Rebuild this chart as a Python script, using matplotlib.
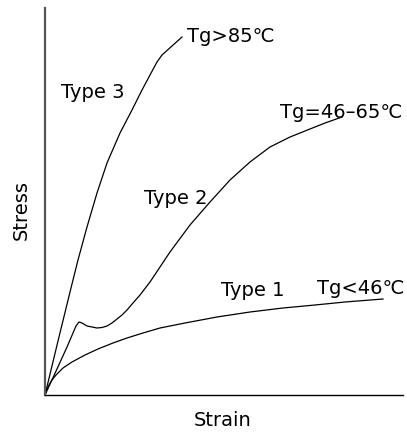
import matplotlib
matplotlib.use("Agg")
import matplotlib.pyplot as plt

plt.rcParams['font.family'] = ['DejaVu Sans', 'Noto Sans CJK JP']

# curves (arbitrary units, strain vs stress)
type3_x = [0, 13, 26, 33, 42, 52, 62, 75, 87, 97, 105, 112, 117, 127, 137]
type3_y = [0, 54, 107, 135, 168, 202, 232, 262, 285, 305, 320, 333, 340, 349, 358]

type2_x = [0, 12, 22, 28, 31, 34, 37, 42, 47, 52, 57, 62, 67, 72, 77, 82, 88, 95, 105, 115,
           125, 145, 165, 185, 205, 225, 245, 265, 280, 297]
type2_y = [0, 26, 48, 62, 69, 73, 72, 69, 68, 67, 67.5, 69, 72, 76, 80, 85, 92, 100, 113, 128,
           143, 170, 193, 215, 233, 248, 258, 266, 272, 278]

type1_x = [0, 2, 4, 7, 11, 18, 27, 40, 53, 68, 82, 98, 115, 140, 172, 205, 238, 270, 300, 338]
type1_y = [0, 6, 10, 15, 20, 27, 33, 40, 46, 52, 57, 62, 67, 72, 78, 83, 87, 90, 93, 96]

W, H = 407, 432
fig = plt.figure(figsize=(W / 100, H / 100), dpi=100)
ax = fig.add_axes([45 / W, 37 / H, 358 / W, 387 / H])

for xs, ys in [(type3_x, type3_y), (type2_x, type2_y), (type1_x, type1_y)]:
    ax.plot(xs, ys, color='black', lw=0.9)

ax.set_xlim(0, 358)
ax.set_ylim(0, 387)
ax.set_xticks([])
ax.set_yticks([])
ax.spines['top'].set_visible(False)
ax.spines['right'].set_visible(False)
ax.spines['left'].set_color('#555555')
ax.spines['left'].set_linewidth(1.6)
ax.spines['bottom'].set_linewidth(1.0)

fs = 14
ax.text(48, 302, "Type 3", fontsize=fs, ha='center', va='center')
ax.text(142, 359, "Tg>85℃", fontsize=fs, ha='left', va='center')
ax.text(131, 197, "Type 2", fontsize=fs, ha='center', va='center')
ax.text(235, 283, "Tg=46–65℃", fontsize=fs, ha='left', va='center')
ax.text(208, 105, "Type 1", fontsize=fs, ha='center', va='center')
ax.text(272, 106, "Tg<46℃", fontsize=fs, ha='left', va='center')

fig.text(21 / W, 1 - 210 / H, "Stress", fontsize=fs, rotation=90, ha='center', va='center')
fig.text(223 / W, 1 - 420 / H, "Strain", fontsize=fs, ha='center', va='center')

fig.savefig("out.png", dpi=100)
